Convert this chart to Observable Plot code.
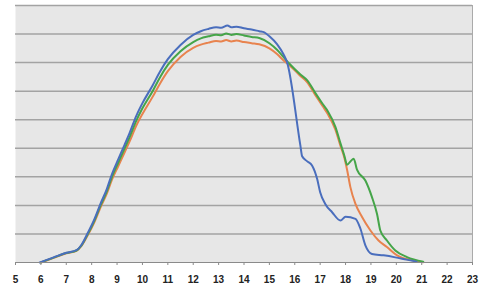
<!DOCTYPE html>
<html><head><meta charset="utf-8">
<script src="https://cdn.jsdelivr.net/npm/d3@7"></script>
<script src="https://cdn.jsdelivr.net/npm/@observablehq/plot@0.6"></script>
<style>html,body{margin:0;padding:0;background:#fff} svg{display:block}</style>
</head><body><div id="chart"></div>
<script>
const xTicks = [5,6,7,8,9,10,11,12,13,14,15,16,17,18,19,20,21,22,23];
const gridLevels = [1,2,3,4,5,6,7,8,9];

const greenPts = [[6.0,0.0],[6.5,0.17],[7.0,0.33],[7.4,0.42],[7.6,0.6],[7.85,1.0],[8.1,1.45],[8.35,2.0],[8.6,2.5],[8.8,3.0],[9.05,3.5],[9.3,4.0],[9.5,4.4],[9.75,4.95],[10.0,5.4],[10.4,6.0],[10.7,6.5],[11.0,6.92],[11.5,7.4],[12.0,7.72],[12.3,7.85],[12.6,7.92],[12.9,7.98],[13.1,7.96],[13.3,8.02],[13.5,7.97],[13.7,8.0],[14.0,7.95],[14.3,7.9],[14.6,7.86],[15.0,7.68],[15.3,7.45],[15.55,7.2],[15.8,6.95],[16.2,6.6],[16.5,6.37],[16.8,5.95],[17.1,5.55],[17.3,5.3],[17.6,4.75],[17.8,4.17],[17.95,3.75],[18.06,3.42],[18.2,3.55],[18.32,3.63],[18.45,3.25],[18.78,2.87],[19.04,2.29],[19.24,1.7],[19.37,1.12],[19.63,0.77],[19.96,0.42],[20.42,0.19],[21.06,0.03]];

const orangePts = [[6.0,0.0],[6.5,0.16],[7.0,0.32],[7.4,0.41],[7.6,0.58],[7.85,0.96],[8.1,1.4],[8.35,1.93],[8.6,2.42],[8.8,2.9],[9.05,3.38],[9.3,3.86],[9.5,4.25],[9.75,4.78],[10.0,5.2],[10.4,5.8],[10.7,6.28],[11.0,6.7],[11.5,7.2],[12.0,7.52],[12.3,7.63],[12.6,7.7],[12.9,7.76],[13.1,7.74],[13.3,7.79],[13.5,7.74],[13.7,7.77],[14.0,7.72],[14.3,7.68],[14.6,7.64],[15.0,7.5],[15.3,7.3],[15.55,7.08],[15.8,6.9],[16.2,6.55],[16.5,6.3],[16.8,5.88],[17.1,5.47],[17.3,5.2],[17.6,4.65],[17.8,4.08],[17.95,3.68],[18.06,3.25],[18.19,2.64],[18.39,2.05],[18.65,1.59],[18.98,1.12],[19.3,0.77],[19.63,0.54],[20.03,0.25],[20.67,0.07],[21.06,0.01]];

const bluePts = [[5.95,0.0],[6.5,0.18],[7.0,0.34],[7.4,0.43],[7.6,0.62],[7.85,1.04],[8.1,1.5],[8.35,2.06],[8.6,2.58],[8.8,3.1],[9.05,3.62],[9.3,4.13],[9.5,4.55],[9.75,5.12],[10.0,5.58],[10.4,6.2],[10.7,6.7],[11.0,7.12],[11.5,7.62],[12.0,7.97],[12.3,8.1],[12.6,8.18],[12.9,8.24],[13.1,8.22],[13.35,8.3],[13.5,8.24],[13.7,8.26],[14.0,8.2],[14.3,8.16],[14.6,8.1],[14.8,8.06],[15.0,7.92],[15.3,7.65],[15.55,7.3],[15.7,7.0],[16.22,4.1],[16.29,3.72],[16.48,3.55],[16.68,3.4],[16.88,2.93],[17.0,2.46],[17.2,2.05],[17.47,1.76],[17.8,1.47],[18.0,1.6],[18.39,1.53],[18.58,1.2],[18.78,0.6],[19.04,0.3],[19.5,0.25],[19.96,0.18],[20.4,0.1],[20.8,0.03]];

const toRows = pts => pts.map(([t, v]) => ({t, v}));

const chart = Plot.plot({
  width: 480, height: 289,
  marginTop: 5, marginBottom: 27, marginLeft: 15, marginRight: 8,
  x: {domain: [5, 23], label: null},
  y: {domain: [0, 9], axis: null},
  style: {fontFamily: "'Liberation Sans', Arial, sans-serif", fontSize: "10px", fontWeight: "bold", color: "#222", background: "#fff", overflow: "visible"},
  marks: [
    Plot.frame({fill: "#e7e7e7", stroke: null}),
    Plot.ruleY(gridLevels, {stroke: "#a3a3a3", strokeWidth: 1.5}),
    Plot.ruleX([23], {stroke: "#aaaaaa", strokeWidth: 1}),
    Plot.line(toRows(orangePts), {x: "t", y: "v", stroke: "#e8834e", strokeWidth: 2, curve: "monotone-x"}),
    Plot.line(toRows(greenPts), {x: "t", y: "v", stroke: "#45a549", strokeWidth: 2, curve: "monotone-x"}),
    Plot.line(toRows(bluePts), {x: "t", y: "v", stroke: "#4a6ebd", strokeWidth: 2, curve: "monotone-x"}),
    Plot.ruleY([0], {stroke: "#8a8a8a", strokeWidth: 1}),
    Plot.axisX({ticks: xTicks, tickSize: 3, tickPadding: 10, tickFormat: d => String(d), stroke: "#8a8a8a", fill: "#222", label: null})
  ]
});
document.getElementById("chart").appendChild(chart);
</script>
</body></html>
